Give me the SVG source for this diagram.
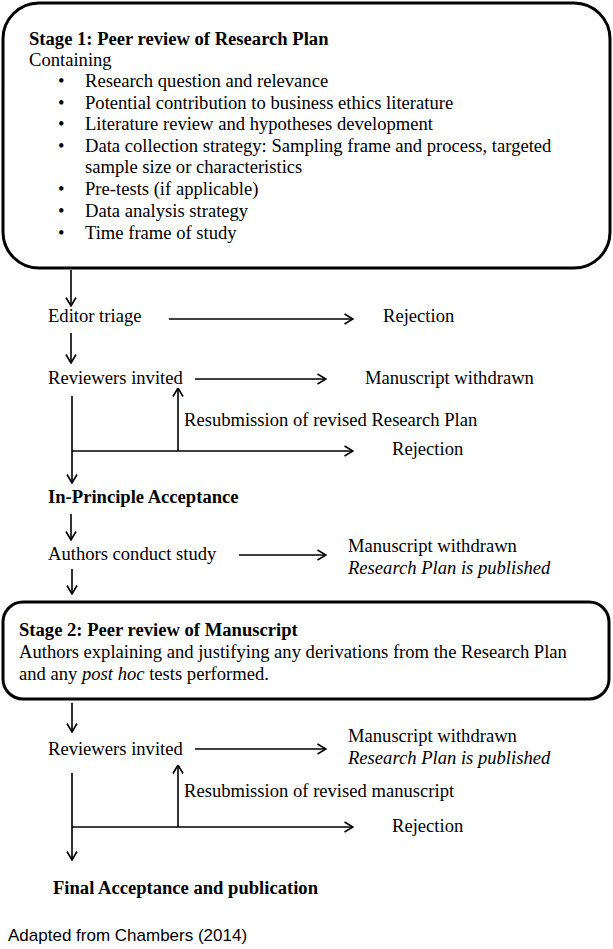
<svg xmlns="http://www.w3.org/2000/svg" width="613" height="949" viewBox="0 0 613 949">
<defs>
<marker id="ah" viewBox="0 0 10 12" refX="9.5" refY="6" markerWidth="10" markerHeight="12" markerUnits="userSpaceOnUse" orient="auto">
<path d="M1,1 L9.5,6 L1,11" fill="none" stroke="#000" stroke-width="1.6"/>
</marker>
<style>
text{font-family:"Liberation Serif","Times New Roman",serif;font-size:18.6px;fill:#000}
.b{font-weight:bold}
.i{font-style:italic}
.s{font-family:"Liberation Sans",Arial,sans-serif;font-size:17px}
.box{fill:#fff;stroke:#000;stroke-width:3}
.c line,.c path{stroke:#000;stroke-width:1.6;fill:none}
.a{marker-end:url(#ah)}
</style>
</defs>
<rect width="613" height="949" fill="#fff"/>
<g id="stage1">
<rect class="box" x="3" y="3" width="607" height="265" rx="36" ry="36"/>
<text class="b" x="29" y="45">Stage 1: Peer review of Research Plan</text>
<text x="29" y="66">Containing</text>
<g>
<text x="58" y="87">•</text><text x="85" y="87">Research question and relevance</text>
<text x="58" y="109">•</text><text x="85" y="109">Potential contribution to business ethics literature</text>
<text x="58" y="130">•</text><text x="85" y="130">Literature review and hypotheses development</text>
<text x="58" y="152">•</text><text x="85" y="152">Data collection strategy: Sampling frame and process, targeted</text>
<text x="85" y="173">sample size or characteristics</text>
<text x="58" y="195">•</text><text x="85" y="195">Pre-tests (if applicable)</text>
<text x="58" y="217">•</text><text x="85" y="217">Data analysis strategy</text>
<text x="58" y="239">•</text><text x="85" y="239">Time frame of study</text>
</g>
</g>
<g id="editor-triage"><text x="48" y="322">Editor triage</text></g>
<g id="rejection1"><text x="383" y="322">Rejection</text></g>
<g id="reviewers1"><text x="48" y="384">Reviewers invited</text></g>
<g id="withdrawn1"><text x="365" y="384">Manuscript withdrawn</text></g>
<g id="resub1"><text x="184" y="426">Resubmission of revised Research Plan</text></g>
<g id="rejection2"><text x="392" y="455">Rejection</text></g>
<g id="ipa"><text class="b" x="48" y="503">In-Principle Acceptance</text></g>
<g id="conduct"><text x="48" y="560">Authors conduct study</text></g>
<g id="withdrawn2"><text x="348" y="552">Manuscript withdrawn</text><text class="i" x="348" y="574">Research Plan is published</text></g>
<g id="stage2">
<rect class="box" x="3" y="602" width="606" height="97" rx="20" ry="20"/>
<text class="b" x="19" y="636">Stage 2: Peer review of Manuscript</text>
<text x="19" y="658">Authors explaining and justifying any derivations from the Research Plan</text>
<text x="19" y="680">and any <tspan class="i">post hoc</tspan> tests performed.</text>
</g>
<g id="reviewers2"><text x="48" y="755">Reviewers invited</text></g>
<g id="withdrawn3"><text x="348" y="742">Manuscript withdrawn</text><text class="i" x="348" y="764">Research Plan is published</text></g>
<g id="resub2"><text x="184" y="797">Resubmission of revised manuscript</text></g>
<g id="rejection3"><text x="392" y="832">Rejection</text></g>
<g id="final"><text class="b" x="53" y="894">Final Acceptance and publication</text></g>
<g id="source"><text class="s" x="8" y="941">Adapted from Chambers (2014)</text></g>
<g class="c" id="connectors">
<line class="a" x1="71" y1="270" x2="71" y2="306"/>
<line class="a" x1="169" y1="319" x2="353" y2="319"/>
<line class="a" x1="71" y1="333" x2="71" y2="363"/>
<line class="a" x1="195" y1="379" x2="326" y2="379"/>
<line class="a" x1="178" y1="451" x2="178" y2="388"/>
<line class="a" x1="72" y1="451" x2="353" y2="451"/>
<line class="a" x1="72" y1="396" x2="72" y2="483"/>
<line class="a" x1="71" y1="514" x2="71" y2="540"/>
<line class="a" x1="239" y1="555" x2="326" y2="555"/>
<line class="a" x1="72" y1="569" x2="72" y2="594"/>
<line class="a" x1="72" y1="703" x2="72" y2="732"/>
<line class="a" x1="195" y1="749" x2="326" y2="749"/>
<line class="a" x1="178" y1="827" x2="178" y2="765"/>
<line class="a" x1="72" y1="827" x2="353" y2="827"/>
<line class="a" x1="72" y1="773" x2="72" y2="860"/>
</g>
</svg>
